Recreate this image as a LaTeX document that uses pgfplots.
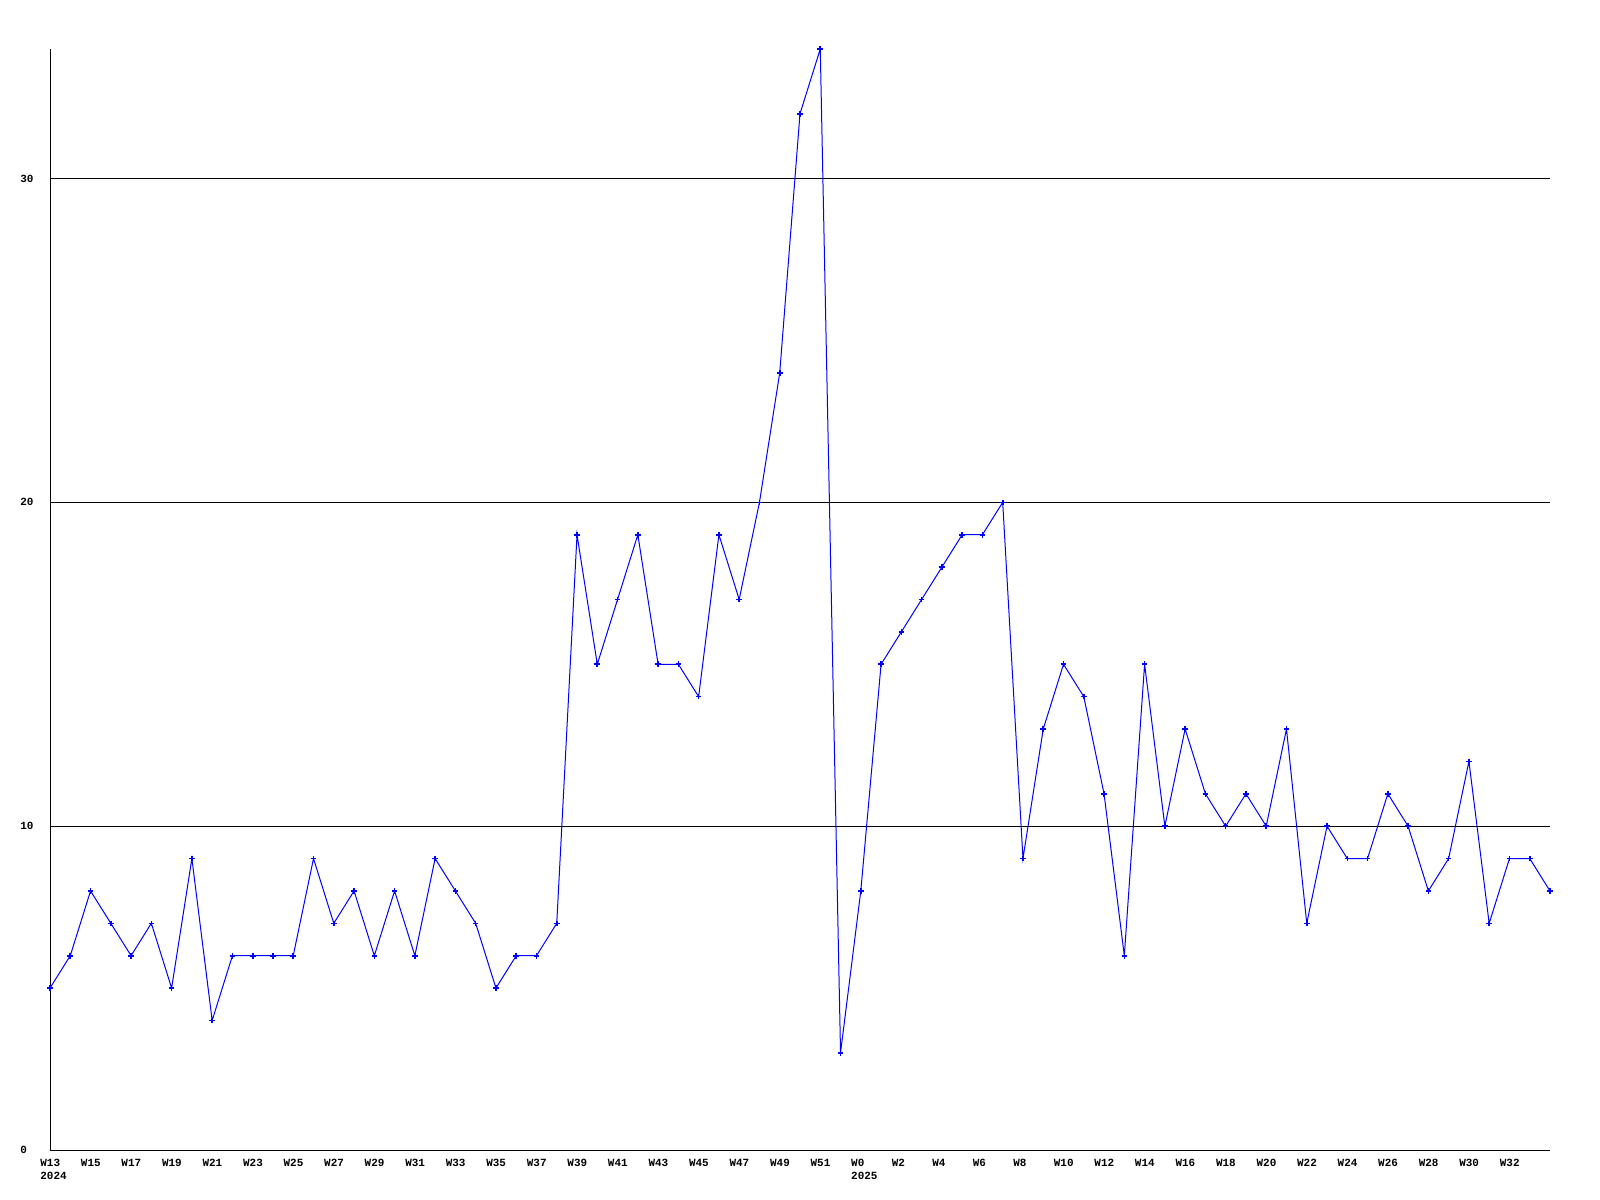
\documentclass[border=0pt]{standalone}
\usepackage{fontspec}
\setmonofont{Liberation Mono}
\usepackage{pgfplots}
\usepackage{pgfplotstable}
\pgfplotsset{compat=1.18}
\pgfplotstableread{
i v
0 5
1 6
2 8
3 7
4 6
5 7
6 5
7 9
8 4
9 6
10 6
11 6
12 6
13 9
14 7
15 8
16 6
17 8
18 6
19 9
20 8
21 7
22 5
23 6
24 6
25 7
26 19
27 15
28 17
29 19
30 15
31 15
32 14
33 19
34 17
35 20
36 24
37 32
38 34
39 3
40 8
41 15
42 16
43 17
44 18
45 19
46 19
47 20
48 9
49 13
50 15
51 14
52 11
53 6
54 15
55 10
56 13
57 11
58 10
59 11
60 10
61 13
62 7
63 10
64 9
65 9
66 11
67 10
68 8
69 9
70 12
71 7
72 9
73 9
74 8
}\datatable
\newcommand{\lblfont}{\ttfamily\bfseries\fontsize{5.5}{6}\selectfont}
\begin{document}
\begin{tikzpicture}
\useasboundingbox (0,0) rectangle (800bp,600bp);
\begin{axis}[
  at={(25bp,25bp)}, anchor=south west,
  scale only axis, width=750bp, height=550.5bp,
  xmin=0, xmax=74, ymin=0, ymax=34,
  axis x line=bottom, axis y line=left,
  axis line style={-, black, line width=0.5bp},
  xtick={0,2,...,72},
  xticklabels={W13,W15,W17,W19,W21,W23,W25,W27,W29,W31,W33,W35,W37,W39,W41,W43,W45,W47,W49,W51,W0,W2,W4,W6,W8,W10,W12,W14,W16,W18,W20,W22,W24,W26,W28,W30,W32},
  ytick={0,10,20,30},
  yticklabels={0,10,20,30},
  major tick length=0,
  ymajorgrids, grid style={black, solid, line width=0.5bp},
  xticklabel style={font=\lblfont, anchor=north west, inner sep=0pt, xshift=-5bp, yshift=-4.5bp},
  yticklabel style={font=\lblfont, anchor=west, inner sep=0pt, xshift=-15bp},
  /pgf/number format/assume math mode=true,
  clip=false,
]
\addplot[color={rgb,255:red,0;green,0;blue,255}, line width=0.5bp, mark=+, mark size=1.4bp, mark options={line width=0.8bp}] table[x=i, y=v] {\datatable};
\node[anchor=north west, inner sep=0pt, font=\lblfont] at (axis cs:0,0) [xshift=-5bp, yshift=-11bp] {2024};
\node[anchor=north west, inner sep=0pt, font=\lblfont] at (axis cs:40,0) [xshift=-5bp, yshift=-11bp] {2025};
\end{axis}
\end{tikzpicture}
\end{document}
